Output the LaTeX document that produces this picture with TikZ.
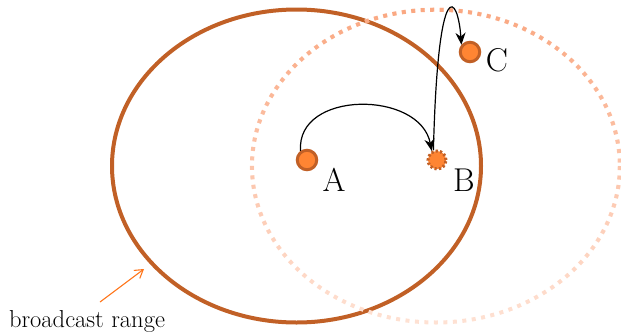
\documentclass[tikz,border=0pt]{standalone}
\usetikzlibrary{arrows.meta,fadings}
\definecolor{rim}{RGB}{193,96,38}
\definecolor{dotfill}{RGB}{255,133,51}
\definecolor{palea}{RGB}{255,226,212}
\definecolor{paleb}{RGB}{250,168,130}
\definecolor{hint}{RGB}{255,118,28}
\tikzset{
  station/.style={circle,draw=rim,fill=dotfill,line width=3pt,minimum size=19.5pt,inner sep=0pt},
  ghost/.style={station,minimum size=18pt,dash pattern=on 2.2pt off 2.2pt},
  lbl/.style={font=\fontsize{33}{36}\selectfont,inner sep=0pt},
  rangeline/.style={draw=rim,line width=4pt},
  rangedots/.style={line width=4pt,dash pattern=on 4pt off 5.5pt},
  hop/.style={-{Stealth[length=12pt,width=10pt]},line width=1.2pt,black}
}
\begin{document}
\begin{tikzpicture}[x=1pt,y=-1pt]
\useasboundingbox (0,0) rectangle (621,335);
% broadcast range of A
\path[rangeline] (296.5,166) ellipse [x radius=184.5, y radius=156.5];
% broadcast range of B (dotted, faded)
\draw[palea,rangedots] (436,166) ellipse [x radius=184, y radius=156.5];
\draw[paleb,rangedots,path fading=south] (436,166) ellipse [x radius=184, y radius=156.5];
% stations
\node[station] (A) at (307,160) {};
\node[ghost] (B) at (437,160) {};
\node[station] (C) at (470,52) {};
\node[lbl] (la) at (334,180) {A};
\node[lbl] (lb) at (464,180) {B};
\node[lbl] (lc) at (497,60) {C};
% hops
\draw[hop] (A.125) .. controls (296,90) and (420,90) .. (B.120);
\draw[hop] (B.110) .. controls (438,-30) and (458,-5) .. (C.140);
% annotation
\node[font=\fontsize{24.5}{28}\selectfont,inner sep=0pt] (br) at (87,321) {broadcast range};
\coordinate (bs) at (100,302);
\coordinate (be) at (144,269);
\draw[hint,line width=1.1pt,-{Straight Barb[length=8pt,width=10pt]}] (bs) -- (be);
\end{tikzpicture}
\end{document}
